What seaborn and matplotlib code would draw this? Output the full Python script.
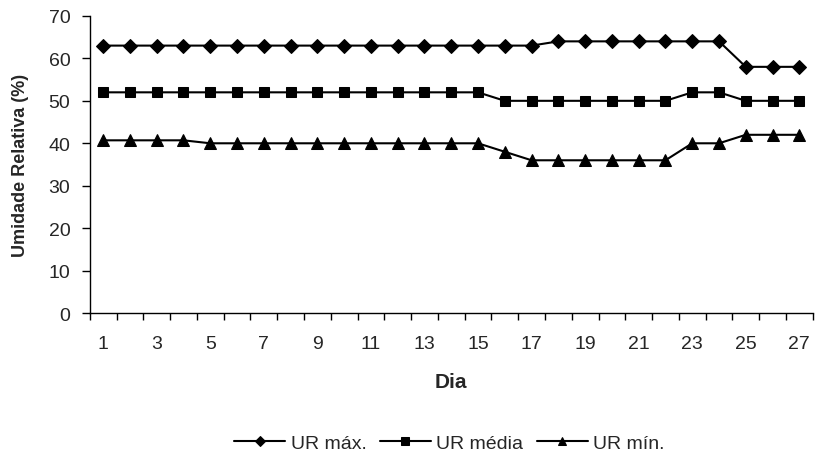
import matplotlib
matplotlib.use("Agg")
import matplotlib.pyplot as plt
import seaborn as sns
import pandas as pd

dias = list(range(1, 28))
ur_max = [63, 63, 63, 63, 63, 63, 63, 63, 63, 63, 63, 63, 63, 63, 63, 63, 63,
          64, 64, 64, 64, 64, 64, 64, 58, 58, 58]
ur_media = [52, 52, 52, 52, 52, 52, 52, 52, 52, 52, 52, 52, 52, 52, 52,
            50, 50, 50, 50, 50, 50, 50, 52, 52, 50, 50, 50]
ur_min = [40.7, 40.7, 40.7, 40.7, 40, 40, 40, 40, 40, 40, 40, 40, 40, 40, 40,
          38, 36, 36, 36, 36, 36, 36, 40, 40, 42, 42, 42]
series_names = ["UR máx.", "UR média", "UR mín."]
y_ticks = [0, 10, 20, 30, 40, 50, 60, 70]
x_ticklabels = [str(d) for d in range(1, 28, 2)]

sns.set_theme(style="white")
plt.rcParams["font.family"] = ["Liberation Sans", "DejaVu Sans"]

fig = plt.figure(figsize=(8.16, 4.56), dpi=100)
ax = fig.add_axes([0.110, 0.311, 0.886, 0.652])

markers = ["D", "s", "^"]
msizes = [7, 7.5, 8.5]
for name, vals, mk, ms in zip(series_names, [ur_max, ur_media, ur_min], markers, msizes):
    df = pd.DataFrame({"Dia": dias, "UR": vals})
    sns.lineplot(data=df, x="Dia", y="UR", ax=ax, color="black", linewidth=1.5,
                 marker=mk, markersize=ms, markeredgecolor="black",
                 markerfacecolor="black", label=name)

ax.set_xlim(0.5, 27.5)
ax.set_ylim(0, 70)
ax.set_yticks(y_ticks)
ax.set_yticklabels([str(t) for t in y_ticks], fontsize=14)
ax.set_xticks(range(1, 28, 2))
ax.set_xticklabels(x_ticklabels, fontsize=14)
ax.tick_params(axis="x", which="major", length=0, pad=16)
ax.set_xticks([d + 0.5 for d in range(0, 28)], minor=True)
ax.tick_params(axis="x", which="minor", length=5, width=1, color="black", direction="out", bottom=True)
ax.tick_params(axis="y", length=6, width=1, color="black", direction="out", left=True, pad=8)

for s in ["top", "right"]:
    ax.spines[s].set_visible(False)
for s in ["left", "bottom"]:
    ax.spines[s].set_color("black")
    ax.spines[s].set_linewidth(1)

ax.set_xlabel("Dia", fontsize=15, fontweight="bold", labelpad=14)
ax.set_ylabel("Umidade Relativa (%)", fontsize=13, fontweight="bold", labelpad=14)

ax.legend(loc="center", bbox_to_anchor=(0.551, 0.026), bbox_transform=fig.transFigure,
          ncol=3, frameon=False, fontsize=14, markerscale=0.75, handlelength=2.6,
          handletextpad=0.3, columnspacing=0.7)

fig.savefig("out.png", dpi=100)
